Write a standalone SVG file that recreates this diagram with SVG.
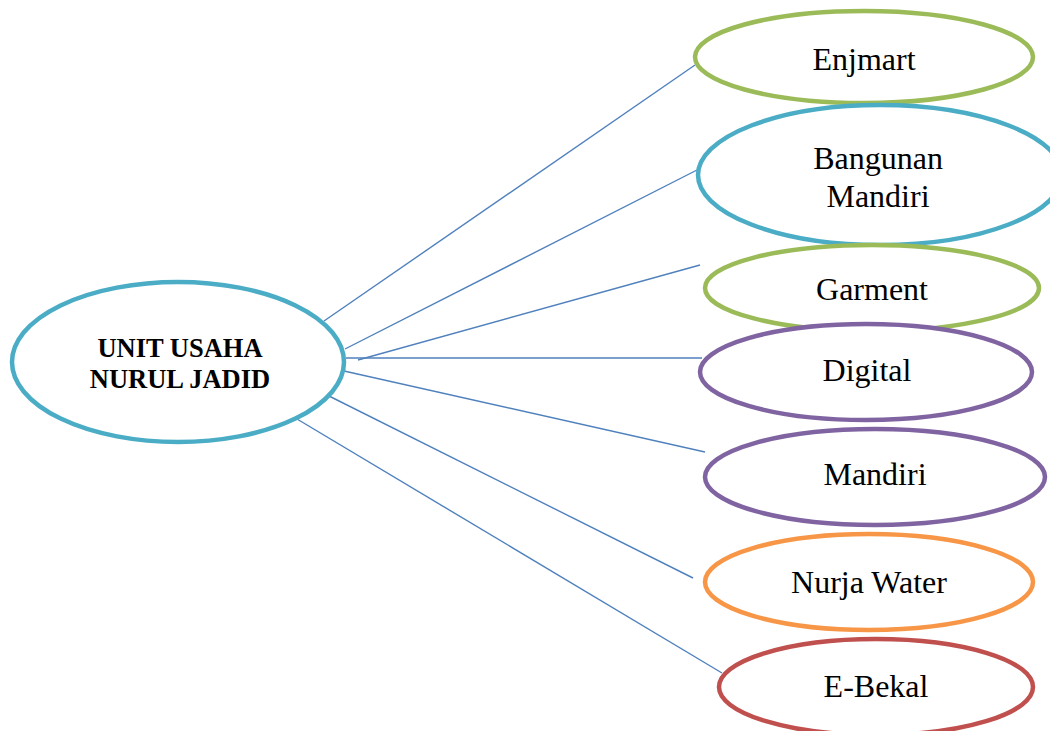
<svg xmlns="http://www.w3.org/2000/svg" width="1050" height="731" viewBox="0 0 1050 731">
<style>
.n{fill:#fff;stroke-width:4.5}
.t{font-family:"Liberation Serif","Times New Roman",serif;font-size:32px;fill:#000;text-anchor:middle}
.b{font-weight:bold;font-size:26.5px}
.c line{stroke:#4F81BD;stroke-width:1.4}
</style>
<rect width="1050" height="731" fill="#fff"/>
<g id="connectors" class="c">
<line x1="324" y1="321" x2="695" y2="65"/>
<line x1="345" y1="349" x2="697" y2="170"/>
<line x1="358" y1="360" x2="700" y2="265"/>
<line x1="346" y1="358" x2="702" y2="358"/>
<line x1="344" y1="371" x2="705" y2="452"/>
<line x1="323" y1="393" x2="693" y2="578"/>
<line x1="297" y1="419" x2="722" y2="673"/>
</g>
<g id="center">
<ellipse class="n" cx="178" cy="362" rx="166" ry="80" stroke="#4BACC6"/>
<text class="t b" x="180" y="357">UNIT USAHA</text>
<text class="t b" x="180" y="388">NURUL JADID</text>
</g>
<g id="enjmart">
<ellipse class="n" cx="864" cy="57" rx="169" ry="46" stroke="#9BBB59"/>
<text class="t" x="864" y="70">Enjmart</text>
</g>
<g id="bangunan">
<ellipse class="n" cx="880" cy="175" rx="182" ry="70" stroke="#4BACC6"/>
<text class="t" x="878" y="169">Bangunan</text>
<text class="t" x="878" y="207">Mandiri</text>
</g>
<g id="garment">
<ellipse class="n" cx="872" cy="288" rx="167" ry="43" stroke="#9BBB59"/>
<text class="t" x="872" y="300">Garment</text>
</g>
<g id="digital">
<ellipse class="n" cx="866" cy="372" rx="166" ry="48" stroke="#8064A2"/>
<text class="t" x="867" y="381">Digital</text>
</g>
<g id="mandiri">
<ellipse class="n" cx="875" cy="477" rx="170" ry="48" stroke="#8064A2"/>
<text class="t" x="875" y="485">Mandiri</text>
</g>
<g id="nurja">
<ellipse class="n" cx="869" cy="582" rx="164" ry="48" stroke="#F79646"/>
<text class="t" x="869" y="593">Nurja Water</text>
</g>
<g id="ebekal">
<ellipse class="n" cx="876" cy="687" rx="157" ry="48" stroke="#C0504D"/>
<text class="t" x="876" y="697">E-Bekal</text>
</g>
</svg>
